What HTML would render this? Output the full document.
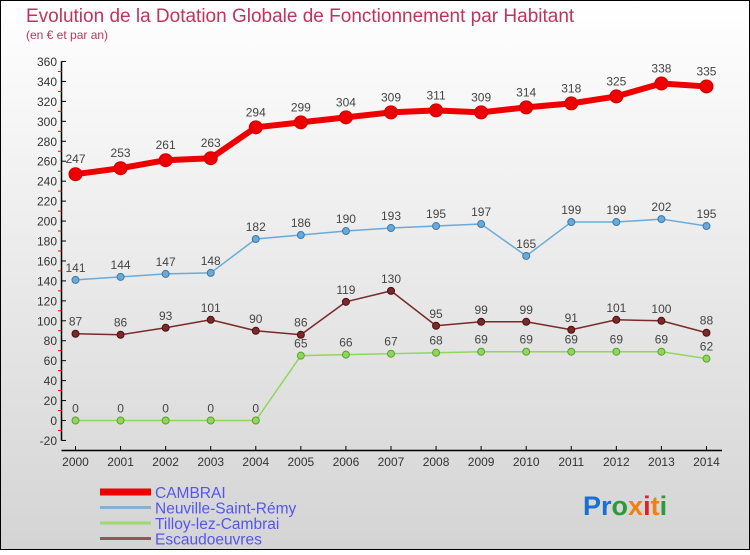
<!DOCTYPE html>
<html><head><meta charset="utf-8"><style>
html,body{margin:0;padding:0;}
body{width:750px;height:550px;overflow:hidden;font-family:"Liberation Sans",sans-serif;}
</style></head><body>
<svg id="c" width="750" height="550" xmlns="http://www.w3.org/2000/svg">
<defs><linearGradient id="bg" x1="0" y1="0" x2="0" y2="1"><stop offset="0" stop-color="#ffffff"/><stop offset="1" stop-color="#d4d4d4"/></linearGradient></defs>
<rect x="0.5" y="0.5" width="749" height="549" fill="url(#bg)" stroke="#000"/>
<text x="26" y="22" font-size="19" fill="#c0335f">Evolution de la Dotation Globale de Fonctionnement par Habitant</text>
<text x="26" y="39" font-size="12" fill="#c0335f">(en € et par an)</text>
<g id="axes"></g><g id="series"></g><g id="legend"></g>
<text x="583" y="515" font-size="27" font-weight="bold"><tspan fill="#1a6fd0">Pr</tspan><tspan fill="#2a9a3a">o</tspan><tspan fill="#f08010">x</tspan><tspan fill="#e02020">i</tspan><tspan fill="#f08010">t</tspan><tspan fill="#2a9a3a">i</tspan></text>
</svg>
<script>
const years=[2000,2001,2002,2003,2004,2005,2006,2007,2008,2009,2010,2011,2012,2013,2014];
const cambrai=[247,253,261,263,294,299,304,309,311,309,314,318,325,338,335];
const neuville=[141,144,147,148,182,186,190,193,195,197,165,199,199,202,195];
const tilloy=[0,0,0,0,0,65,66,67,68,69,69,69,69,69,62];
const escaud=[87,86,93,101,90,86,119,130,95,99,99,91,101,100,88];
const yTicks=[-20,0,20,40,60,80,100,120,140,160,180,200,220,240,260,280,300,320,340,360];
const names=["CAMBRAI","Neuville-Saint-Rémy","Tilloy-lez-Cambrai","Escaudoeuvres"];
const NS="http://www.w3.org/2000/svg";
const X=i=>75.5+i*45.07, Y=v=>420.5-v*0.9972;
function mk(p,t,a){const e=document.createElementNS(NS,t);for(const k in a)e.setAttribute(k,a[k]);p.appendChild(e);return e;}
const ax=document.getElementById('axes');
const yl=mk(ax,'line',{x1:61.5,y1:Y(360),x2:61.5,y2:Y(-20),stroke:'#000','stroke-width':1.5});


const xl=mk(ax,'line',{x1:61.5,y1:450.5,x2:722,y2:450.5,stroke:'#000','stroke-width':1.5});


yTicks.forEach(v=>{
 mk(ax,'line',{x1:61.5,y1:Y(v),x2:66,y2:Y(v),stroke:'#000'});
 if(v<360) mk(ax,'line',{x1:58,y1:Y(v+10),x2:62,y2:Y(v+10),stroke:'#e00'});
 const t=mk(ax,'text',{x:57,y:Y(v)+4.5,'font-size':12,'text-anchor':'end',fill:'#333'});
 t.textContent=v;
 
 
});
years.forEach((yr,i)=>{
 mk(ax,'line',{x1:X(i),y1:446,x2:X(i),y2:451,stroke:'#000'});
 const t=mk(ax,'text',{x:X(i),y:466,'font-size':12,'text-anchor':'middle',fill:'#333'});
 t.textContent=yr;
 
 
});
const sg=document.getElementById('series');
function draw(vals,color,lw,r,name,dark,off){
 const g=mk(sg,'g',{});
 
 
 const pl=mk(g,'polyline',{points:vals.map((v,i)=>X(i)+','+Y(v)).join(' '),fill:'none',stroke:color,'stroke-width':lw,'stroke-linejoin':'round'});
 
 
 vals.forEach((v,i)=>{
  const c=mk(g,'circle',{cx:X(i),cy:Y(v),r:r,fill:color,stroke:dark,'stroke-width':1});
  
  
  const t=mk(g,'text',{x:X(i),y:Y(v)-off,'font-size':12,'text-anchor':'middle',fill:'#444'});
  t.textContent=v;
  
  
 });
}
draw(tilloy,'#8fd65a',1.5,3.5,'tilloy','#5aa030',8);
draw(escaud,'#7a2a2a',1.5,3.5,'escaudoeuvres','#4a1010',8);
draw(neuville,'#6aaad8',1.5,3.5,'neuville','#3a78a8',8);
draw(cambrai,'#ee0000',6,6.5,'cambrai','#cc0000',11);
const lg=document.getElementById('legend');
const lc=['#ee0000','#86b2d0','#9ed870','#8a5a5a'],lw=[7,3,3,3];
names.forEach((n,i)=>{
 const y=492+i*15.5;
 const l=mk(lg,'line',{x1:100,y1:y,x2:151,y2:y,stroke:lc[i],'stroke-width':lw[i]});
 
 
 const t=mk(lg,'text',{x:155,y:y+6,'font-size':15.5,fill:'#5555ee'});
 t.textContent=n;
 
 
});
</script>
</body></html>
